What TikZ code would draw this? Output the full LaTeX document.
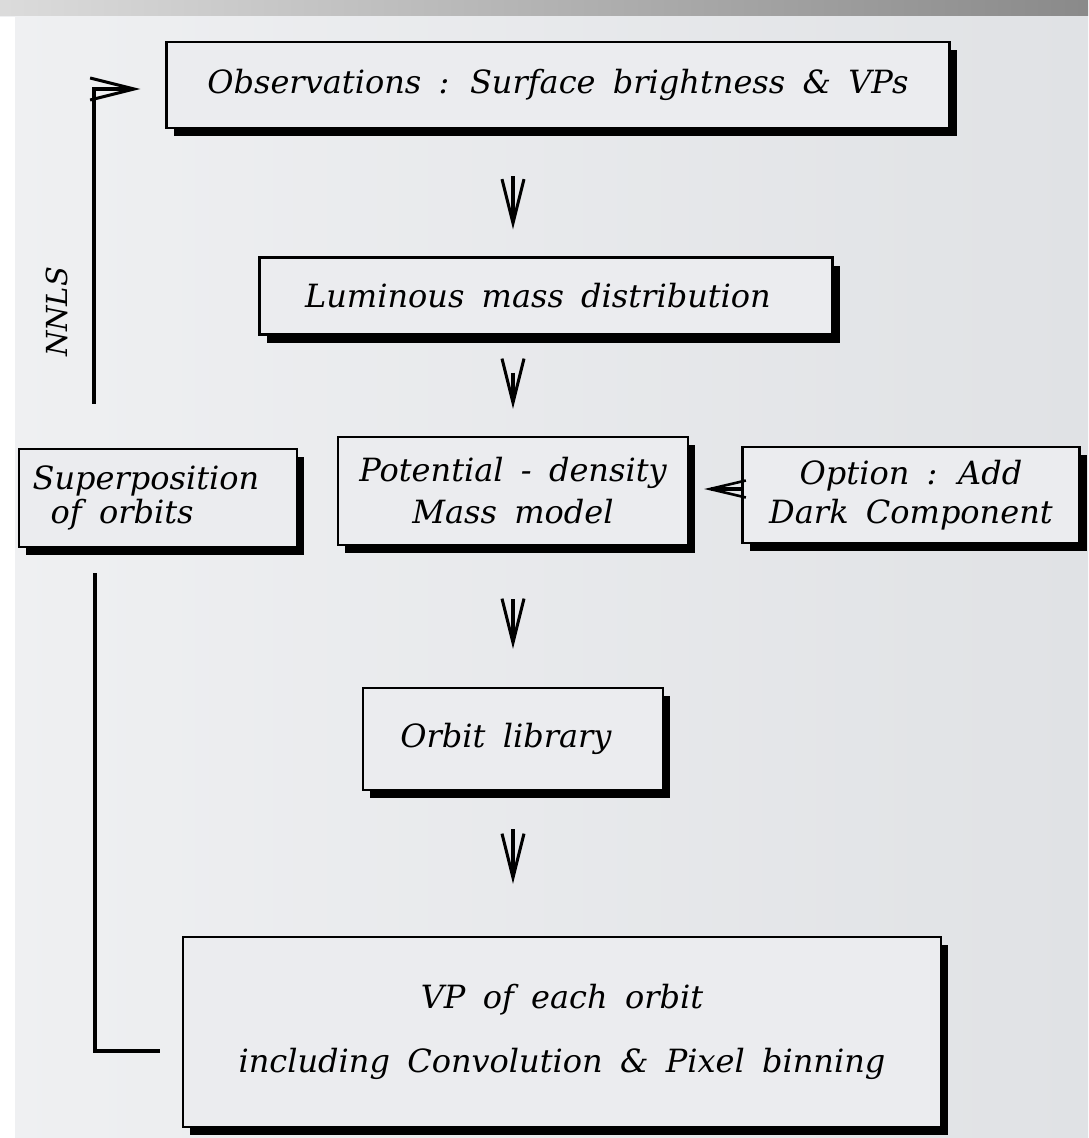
\documentclass[tikz,border=0pt]{standalone}
\usepackage{fontspec}
\setmainfont{DejaVu Serif}[WordSpace=1.7]
\usetikzlibrary{arrows.meta,shadows}

\definecolor{bgleft}{HTML}{EFF0F2}
\definecolor{bgright}{HTML}{E0E2E5}
\definecolor{boxfill}{HTML}{EBECEF}

\begin{document}
\begin{tikzpicture}[x=1pt, y=-1pt,
    box/.style={draw, line width=2.4pt, fill=boxfill, inner sep=0pt, align=center,
        font=\fontsize{32}{39}\selectfont\itshape,
        general shadow={fill=black, shadow xshift=7pt, shadow yshift=-8pt}},
    arr/.style={line width=3.2pt, -{Straight Barb[length=44pt, width=22pt, line width=3pt]}},
    link/.style={line width=3.2pt}]

    % Page and frame strips
    \useasboundingbox (0,0) rectangle (1088,1138);
    \shade[left color=bgleft, right color=bgright] (0,0) rectangle (1088,1138);
    \shade[left color=black!14, right color=black!46] (0,0) rectangle (1088,15);
    \fill[white] (0,17) rectangle (15,1138);

    % The chain of steps
    \node[box, minimum width=783pt, minimum height=86pt] (obs) at (558,85)
        {Observations : Surface brightness \& VPs};
    \node[box, minimum width=573pt, minimum height=77pt] (lum) at (546,296)
        {Luminous mass distribution\hspace*{16pt}};
    \node[box, minimum width=350pt, minimum height=108pt] (pot) at (513,491)
        {Potential - density\\[3pt]Mass model};
    \node[box, minimum width=337pt, minimum height=96pt] (opt) at (911,495)
        {Option : Add\\Dark Component};
    \node[box, minimum width=278pt, minimum height=98pt, align=left] (sup) at (158,498)
        {Superposition\hspace*{24pt}\\[-5pt]\hspace*{18pt}of orbits};
    \node[box, minimum width=300pt, minimum height=102pt] (orb) at (513,739)
        {Orbit library\hspace*{14pt}};
    \node[box, minimum width=758pt, minimum height=190pt] (vp) at (562,1032)
        {VP of each orbit\\[25pt]including Convolution \& Pixel binning};

    % Arrows down the middle
    \draw[arr, shorten <=47pt, shorten >=27pt] (obs.south -| orb) -- (lum.north -| orb);
    \draw[arr, shorten <=37pt, shorten >=27pt] (lum.south -| orb) -- (pot.north -| orb);
    \draw[arr, shorten <=53pt, shorten >=38pt] (pot.south -| orb) -- (orb.north);
    \draw[arr, shorten <=38pt, shorten >=52pt] (orb.south) -- (vp.north -| orb);
    \draw[arr, shorten >=15pt, -{Straight Barb[length=36pt, width=17pt, line width=2.6pt]}]
        (opt.west |- 0,489) -- (pot.east |- 0,489);

    % Feedback loop
    \coordinate (turnlo) at (95,1051);
    \coordinate (turnhi) at (94,89);
    \draw[link, shorten <=22pt, shorten >=25pt] (vp.west |- turnlo) -- (turnlo) -- (turnlo |- sup.south);
    \draw[arr, shorten <=44pt, shorten >=25pt] (turnhi |- sup.north) -- (turnhi) -- (turnhi -| obs.west);
    \node[rotate=90, font=\fontsize{29}{34}\selectfont\itshape] (nnls) at (57,312) {NNLS};

\end{tikzpicture}
\end{document}
